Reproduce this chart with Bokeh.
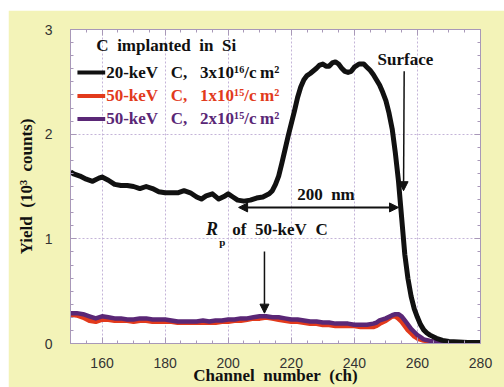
from bokeh.plotting import figure
from bokeh.models import (LinearAxis, Range1d, Label, Arrow, NormalHead,
                          FixedTicker, CustomJSTickFormatter)
from bokeh.embed import file_html
from bokeh.resources import INLINE

# ---- data ----
ch_black = [150, 151, 153, 155, 157, 159, 160, 162, 164, 166, 168, 170, 172, 174, 176, 178,
            180, 182, 184, 186, 188, 190, 191.5, 193, 195, 197, 199, 200, 201.5, 203, 205,
            207, 209, 211, 213, 214, 215, 216, 217, 218, 219, 220, 221, 222, 223, 224, 225,
            226, 228, 229, 230, 231, 232, 233, 234, 235, 236, 237, 238, 239, 240, 241.5, 243,
            244, 245, 246, 247, 248, 249, 250, 251, 252, 253, 254, 255, 256, 257, 258, 259,
            260, 261, 262, 263, 264, 266, 268, 270, 273, 276, 280]
y_black = [1.64, 1.62, 1.60, 1.57, 1.55, 1.58, 1.59, 1.56, 1.52, 1.51, 1.51, 1.50, 1.48, 1.50,
           1.48, 1.45, 1.44, 1.44, 1.44, 1.46, 1.44, 1.40, 1.38, 1.41, 1.43, 1.38, 1.41, 1.43,
           1.40, 1.37, 1.36, 1.37, 1.39, 1.40, 1.43, 1.46, 1.52, 1.60, 1.72, 1.85, 1.98, 2.10,
           2.22, 2.35, 2.45, 2.52, 2.56, 2.58, 2.63, 2.66, 2.67, 2.65, 2.65, 2.68, 2.69, 2.67,
           2.63, 2.60, 2.59, 2.60, 2.64, 2.67, 2.67, 2.64, 2.61, 2.57, 2.52, 2.47, 2.40, 2.32,
           2.20, 2.05, 1.82, 1.55, 1.20, 0.85, 0.62, 0.45, 0.33, 0.25, 0.18, 0.13, 0.10, 0.08,
           0.05, 0.03, 0.02, 0.015, 0.01, 0.01]

ch_low = [150, 152, 154, 156, 158, 160, 162, 164, 166, 168, 170, 172, 174, 176, 178, 180, 182,
          184, 186, 188, 190, 192, 194, 196, 198, 200, 202, 204, 206, 208, 210, 212, 214, 216,
          218, 220, 222, 224, 226, 228, 230, 232, 234, 236, 238, 240, 242, 244, 246, 247, 248,
          250, 252, 253, 254, 255, 256, 257, 258, 259, 260, 261, 262, 264, 266, 268, 271, 274]
y_purple = [0.29, 0.29, 0.28, 0.26, 0.24, 0.26, 0.25, 0.24, 0.24, 0.23, 0.23, 0.24, 0.24, 0.23,
            0.23, 0.23, 0.22, 0.21, 0.21, 0.21, 0.21, 0.22, 0.21, 0.22, 0.22, 0.23, 0.23, 0.24,
            0.24, 0.25, 0.26, 0.26, 0.25, 0.25, 0.24, 0.23, 0.23, 0.22, 0.21, 0.21, 0.20, 0.20,
            0.19, 0.19, 0.19, 0.18, 0.18, 0.18, 0.19, 0.20, 0.22, 0.24, 0.27, 0.28, 0.28, 0.26,
            0.22, 0.18, 0.14, 0.11, 0.08, 0.06, 0.04, 0.025, 0.015, 0.01, 0.005, 0.005]
y_red = [0.28, 0.27, 0.25, 0.22, 0.21, 0.23, 0.23, 0.22, 0.22, 0.22, 0.21, 0.22, 0.22, 0.21,
         0.21, 0.21, 0.21, 0.20, 0.20, 0.20, 0.20, 0.20, 0.20, 0.20, 0.21, 0.21, 0.22, 0.22,
         0.23, 0.24, 0.24, 0.25, 0.24, 0.23, 0.22, 0.21, 0.21, 0.20, 0.19, 0.19, 0.18, 0.18,
         0.17, 0.17, 0.17, 0.17, 0.16, 0.16, 0.16, 0.17, 0.19, 0.22, 0.26, 0.26, 0.24, 0.21,
         0.17, 0.13, 0.10, 0.07, 0.05, 0.04, 0.03, 0.02, 0.01, 0.005, 0.005, 0.005]

S = "\u00a0 "           # wide word gap
W = "\u00a0\u00a0 "     # wider gap used in the legend entries
series_labels = ["20-keV" + W + "C," + W + "3x10\u00b9\u2076/c\u2009m\u00b2",
                 "50-keV" + W + "C," + W + "1x10\u00b9\u2075/c\u2009m\u00b2",
                 "50-keV" + W + "C," + W + "2x10\u00b9\u2075/c\u2009m\u00b2"]
series_colors = ["#111111", "#e23a1c", "#5a2776"]
x_ticks = [160, 180, 200, 220, 240, 260, 280]
y_ticks = [0, 1, 2, 3]

SERIF = "Liberation Serif"
SANS = "Liberation Sans"
YELLOW = "#f3f3b8"
FRAME = "#a898b8"

p = figure(width=496, height=377, output_backend="svg", toolbar_location=None,
           x_range=Range1d(150, 280), y_range=Range1d(0, 3),
           min_border_left=62, min_border_top=19, min_border_right=24, min_border_bottom=44,
           background_fill_color="white", border_fill_color=YELLOW,
           outline_line_color=FRAME)
p.margin = (10, 0, 0, 8)

for ax in (p.xaxis[0], p.yaxis[0]):
    ax.axis_line_color = FRAME
    ax.major_tick_line_color = FRAME
    ax.minor_tick_line_color = FRAME
    ax.major_tick_in = 6
    ax.major_tick_out = 0
    ax.minor_tick_in = 3
    ax.minor_tick_out = 0
    ax.major_label_text_font = SANS
    ax.major_label_text_font_size = "14px"
    ax.major_label_text_color = "#333333"
    ax.axis_label_text_font = SERIF
    ax.axis_label_text_font_style = "bold"
    ax.axis_label_text_font_size = "17px"
    ax.axis_label_text_color = "#111111"

p.xaxis[0].ticker = FixedTicker(ticks=x_ticks, minor_ticks=list(range(150, 281, 5)))
p.yaxis[0].ticker = FixedTicker(ticks=y_ticks, minor_ticks=[i / 8 for i in range(0, 25)])
p.xaxis[0].axis_label = "Channel" + S + "number" + S + "(ch)"
p.yaxis[0].axis_label = "Yield" + S + "(10\u00b3" + S + "counts)"
p.xaxis[0].major_label_standoff = 14
p.yaxis[0].major_label_standoff = 18
p.xaxis[0].axis_label_standoff = -5
p.yaxis[0].axis_label_standoff = 6

blank = CustomJSTickFormatter(code="return ''")
top = LinearAxis(ticker=FixedTicker(ticks=x_ticks, minor_ticks=list(range(150, 281, 5))),
                 formatter=blank)
right = LinearAxis(ticker=FixedTicker(ticks=y_ticks, minor_ticks=[i / 8 for i in range(0, 25)]),
                   formatter=blank)
for ax in (top, right):
    ax.axis_line_color = FRAME
    ax.major_tick_line_color = FRAME
    ax.minor_tick_line_color = FRAME
    ax.major_tick_in = 6
    ax.major_tick_out = 0
    ax.minor_tick_in = 3
    ax.minor_tick_out = 0
    ax.major_label_standoff = 0
    ax.major_label_text_font_size = "1px"
p.add_layout(top, "above")
p.add_layout(right, "right")

p.xgrid.ticker = FixedTicker(ticks=x_ticks)
p.ygrid.ticker = FixedTicker(ticks=y_ticks)
p.grid.grid_line_color = "#c4b4d8"
p.grid.grid_line_dash = "2 2"
p.grid.grid_line_width = 1

# curves
p.line(ch_low, y_red, line_color=series_colors[1], line_width=5, line_join="round")
p.line(ch_low, y_purple, line_color=series_colors[2], line_width=4.5, line_join="round")
p.line(ch_black, y_black, line_color=series_colors[0], line_width=5, line_join="round")

TXT = dict(text_font=SERIF, text_font_style="bold", text_font_size="17px",
           text_baseline="middle")

# legend
p.add_layout(Label(x=158.2, y=2.845, text="C" + S + "implanted" + S + "in" + S + "Si",
                   text_color="#111111", **TXT))
leg_y = [2.59, 2.365, 2.145]
for yy, lab, col in zip(leg_y, series_labels, series_colors):
    p.segment(x0=[152.2], y0=[yy], x1=[161.0], y1=[yy], line_color=col, line_width=4)
    p.add_layout(Label(x=161.3, y=yy, text=lab, text_color=col, **TXT))

# annotations
p.add_layout(Label(x=256.2, y=2.71, text="Surface", text_color="#111111",
                   text_align="center", **TXT))
p.add_layout(Arrow(x_start=255.8, y_start=2.6, x_end=255.6, y_end=1.46, line_width=1.5,
                   line_color="#111111",
                   end=NormalHead(size=9, fill_color="#111111", line_color="#111111")))

p.add_layout(Label(x=231.0, y=1.42, text="200" + S + "nm", text_color="#111111",
                   text_align="center", **TXT))
p.add_layout(Arrow(x_start=203.3, y_start=1.30, x_end=254.0, y_end=1.30, line_width=2,
                   line_color="#111111",
                   start=NormalHead(size=9, fill_color="#111111", line_color="#111111"),
                   end=NormalHead(size=9, fill_color="#111111", line_color="#111111")))

p.add_layout(Label(x=193.0, y=1.09, text="R", text_font=SERIF, text_font_style="bold italic",
                   text_font_size="18px", text_color="#111111", text_baseline="middle"))
p.add_layout(Label(x=197.2, y=0.965, text="p", text_font=SERIF, text_font_style="bold",
                   text_font_size="11px", text_color="#111111", text_baseline="middle"))
p.add_layout(Label(x=201.3, y=1.09, text="of" + S + "50-keV" + S + "C", text_color="#111111",
                   **TXT))
p.add_layout(Arrow(x_start=211.5, y_start=0.88, x_end=211.5, y_end=0.29, line_width=1.5,
                   line_color="#111111",
                   end=NormalHead(size=9, fill_color="#111111", line_color="#111111")))

open("out.html", "w").write(file_html(p, INLINE))
